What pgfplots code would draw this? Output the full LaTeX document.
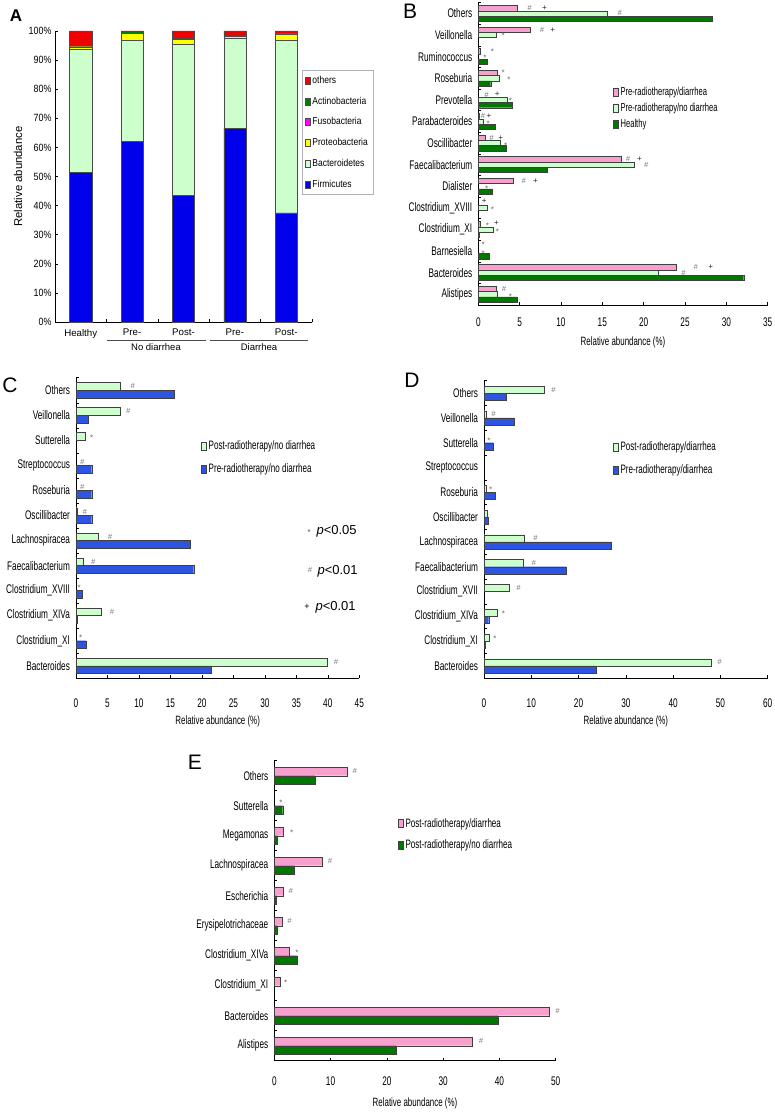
\documentclass[border=0pt]{standalone}
\usepackage{pgfplots}
\pgfplotsset{compat=1.18}
\usepackage{fontspec}
\setmainfont{Liberation Sans}[FakeStretch=0.66]
\newfontfamily\af{Liberation Sans}[FakeStretch=0.85]
\newfontfamily\nf{Liberation Sans}
\definecolor{pinkc}{RGB}{245,160,205}
\definecolor{lgreen}{RGB}{204,255,204}
\definecolor{dgreen}{RGB}{0,120,0}
\definecolor{blueC}{RGB}{45,85,225}
\definecolor{blueA}{RGB}{0,0,235}
\definecolor{redA}{RGB}{240,0,0}
\definecolor{yelA}{RGB}{255,255,0}
\definecolor{magA}{RGB}{255,0,255}
\definecolor{actA}{RGB}{0,128,0}
\newcommand\fs[1]{\fontsize{#1}{#1}\selectfont}
\newcommand\ah[2]{\node[font=\nf\itshape\fs{7.5}, text=black!55, inner sep=0.5pt] at (axis cs:#1,#2) {\#};}
\newcommand\ap[2]{\node[font=\nf\fs{8}, text=black!85, inner sep=0.5pt] at (axis cs:#1,#2) {+};}
\newcommand\as[2]{\node[font=\nf\fs{8}, text=black!60, yshift=-1.2pt, inner sep=0.5pt] at (axis cs:#1,#2) {*};}
\pgfplotsset{
  hb/.style={scale only axis, anchor=south west, xbar, axis lines*=left,
    axis line style={-, black, line width=0.6pt}, tick align=inside, major tick length=3pt,
    tick style={black, line width=0.5pt},
    /pgf/number format/assume math mode=true,
    tick label style={font=\fs{12.5}},
    yticklabel style={xshift=-2.5pt},
    yticklabels={},
    extra y tick style={major tick length=0pt},
    xmin=0, clip=false,
    legend cell align=left,
    legend image code/.code={\draw[##1] (0pt,-4pt) rectangle (5pt,4pt);},
    every axis plot/.append style={draw=black!75, line width=0.4pt},
    xlabel={Relative abundance (\%)},
  },
}
\begin{document}
\begin{tikzpicture}
\useasboundingbox (0pt,0pt) rectangle (775pt,-1113pt);
% ---------------- A
\begin{axis}[
 at={(55pt,-322pt)}, anchor=south west, scale only axis, width=257pt, height=291pt,
 ybar stacked, bar width=0.43,
 xmin=-0.5, xmax=4.5, ymin=0, ymax=100,
 axis lines*=left, axis line style={-, black, line width=0.6pt}, tick align=inside, major tick length=3pt,
 tick style={black, line width=0.5pt},
 xtick={0.5,1.5,2.5,3.5,4.5}, xticklabels={},
 extra x ticks={0,1,2,3,4}, extra x tick labels={Healthy,Pre-,Post-,Pre-,Post-},
 extra x tick style={major tick length=0pt, xticklabel style={font=\nf\fs{9.7}, yshift=-3.5pt}},
 ytick={0,10,...,100}, yticklabel={\pgfmathprintnumber{\tick}\%},
 yticklabel style={font=\af\fs{10.5}},
 /pgf/number format/assume math mode=true,
 ylabel={Relative abundance}, ylabel style={font=\nf\fs{11.3}, at={(axis description cs:-0.144,0.5)}, anchor=center},
 legend style={at={(0.961,0.866)}, anchor=north west, draw=black!30, font=\af\fs{10}, row sep=8pt, inner ysep=4pt},
 legend cell align=left,
 reverse legend,
 legend image code/.code={\draw[#1] (0pt,-3.5pt) rectangle (5pt,3.5pt);},
 every axis plot/.append style={draw=black!70, line width=0.3pt},
 clip=false,
]
\addplot[fill=blueA] coordinates {(0,51.5) (1,62.0) (2,43.6) (3,66.6) (4,37.5)};
\addplot[fill=lgreen] coordinates {(0,42.2) (1,34.9) (2,51.9) (3,30.9) (4,59.4)};
\addplot[fill=yelA] coordinates {(0,0.9) (1,2.4) (2,1.6) (3,0.6) (4,2.1)};
\addplot[fill=magA] coordinates {(0,0) (1,0) (2,0) (3,0) (4,0)};
\addplot[fill=actA] coordinates {(0,0.1) (1,0.5) (2,0.4) (3,0.6) (4,0.3)};
\addplot[fill=redA] coordinates {(0,5.3) (1,0.2) (2,2.5) (3,1.3) (4,0.7)};
\legend{Firmicutes,Bacteroidetes,Proteobacteria,Fusobacteria,Actinobacteria,others}
\end{axis}
\draw[black!70, line width=0.7pt] (107pt,-340pt) -- (206pt,-340pt);
\draw[black!70, line width=0.7pt] (210pt,-340pt) -- (308pt,-340pt);
\node[font=\nf\fs{9.5}] at (156pt,-347.5pt) {No diarrhea};
\node[font=\nf\fs{9.5}] at (259pt,-347.5pt) {Diarrhea};
\node[font=\nf\bfseries\fs{17}] at (16pt,-16pt) {A};
% ---------------- B
\begin{axis}[hb,
 at={(478.3pt,-305pt)}, width=289.4pt, height=302.4pt,
 bar width=0.245, xmax=35, ymin=-0.5, ymax=13.5,
 xtick={0,5,...,35}, xticklabel style={yshift=-9pt},
 ytick={-0.5,0.5,...,13.5},
 extra y ticks={0,1,...,13},
 extra y tick labels={Alistipes,Bacteroides,Barnesiella,Clostridium\_XI,Clostridium\_XVIII,Dialister,Faecalibacterium,Oscillibacter,Parabacteroides,Prevotella,Roseburia,Ruminococcus,Veillonella,Others},
 xlabel style={font=\fs{12}, at={(axis description cs:0.5,0)}, anchor=center, yshift=-37pt},
 legend style={at={(0.455,0.735)}, anchor=north west, draw=none, fill=none, font=\fs{11.5}, row sep=2.5pt},
]
\addplot[fill=pinkc, bar shift=0.245] coordinates {(4.76,13) (6.3,12) (0.2,11) (2.3,10) (0.12,8) (0.85,7) (17.3,6) (4.2,5) (0.25,3) (23.9,1) (2.2,0)};
\addplot[fill=lgreen, bar shift=0] coordinates {(15.6,13) (2.2,12) (2.5,10) (3.5,9) (0.55,8) (2.6,7) (18.8,6) (1.1,4) (1.8,3) (21.7,1) (2.3,0)};
\addplot[fill=dgreen, bar shift=-0.245] coordinates {(28.3,13) (1.1,11) (1.5,10) (4.1,9) (2.0,8) (3.4,7) (8.3,6) (1.7,5) (0.1,3) (1.3,2) (32.1,1) (4.7,0)};
\legend{Pre-radiotherapy/diarrhea,Pre-radiotherapy/no diarrhea,Healthy}
\ah{6.2}{13.245}\ap{8.0}{13.245}\ah{17.1}{13.0}
\ah{7.7}{12.245}\ap{9.0}{12.245}\as{3.0}{12.0}
\as{0.8}{11.0}\as{1.7}{11.3}
\as{3.0}{10.3}\as{3.7}{10.0}
\ah{1.0}{9.245}\ap{2.3}{9.245}\as{3.9}{9.0}
\ah{0.55}{8.245}\ap{1.3}{8.245}\as{1.2}{7.95}
\ah{1.6}{7.245}\ap{2.7}{7.245}\as{3.3}{6.95}
\ah{18.1}{6.245}\ap{19.5}{6.245}\ah{20.3}{6.0}
\ah{5.5}{5.245}\ap{6.9}{5.245}\as{1.0}{4.95}
\ap{0.7}{4.3}\as{1.7}{3.95}
\as{1.1}{3.245}\ap{2.2}{3.3}\as{2.3}{2.95}
\as{0.6}{2.33}\as{0.6}{1.95}
\ah{26.3}{1.245}\ap{28.1}{1.245}\ah{24.8}{1.0}
\ah{3.1}{0.245}\as{3.9}{-0.05}
\end{axis}
\node[font=\nf\fs{21}] at (410pt,-11pt) {B};
% ---------------- C
\begin{axis}[hb,
 at={(76pt,-678.3pt)}, width=283.3pt, height=300.6pt,
 bar width=0.31, xmax=45, ymin=-0.5, ymax=11.5,
 xtick={0,5,...,45}, xticklabel style={yshift=-17pt},
 ytick={-0.5,0.5,...,11.5},
 extra y ticks={0,1,...,11},
 extra y tick labels={Bacteroides,Clostridium\_XI,Clostridium\_XIVa,Clostridium\_XVIII,Faecalibacterium,Lachnospiracea,Oscillibacter,Roseburia,Streptococcus,Sutterella,Veillonella,Others},
 xlabel style={font=\fs{12}, at={(axis description cs:0.5,0)}, anchor=center, yshift=-42.7pt},
 legend style={at={(0.431,0.804)}, anchor=north west, draw=none, fill=none, font=\fs{12.2}, row sep=8.5pt},
]
\addplot[fill=lgreen, bar shift=0.155] coordinates {(7.1,11) (7.1,10) (1.4,9) (0.26,6) (3.5,5) (1.2,4) (4.0,2) (39.9,0)};
\addplot[fill=blueC, bar shift=-0.155] coordinates {(15.6,11) (2.0,10) (2.5,8) (2.5,7) (2.5,6) (18.2,5) (18.7,4) (1.0,3) (0.26,2) (1.6,1) (21.5,0)};
\legend{Post-radiotherapy/no diarrhea,Pre-radiotherapy/no diarrhea}
\ah{9.0}{11.155}\ah{8.3}{10.155}\as{2.5}{9.155}\ah{1.0}{8.155}\ah{1.0}{7.155}\ah{1.4}{6.155}
\ah{5.4}{5.155}\ah{2.75}{4.155}\as{0.5}{3.155}\ah{5.7}{2.155}\as{0.75}{1.155}\ah{41.3}{0.155}
\end{axis}
\node[font=\nf\fs{21}] at (10pt,-385pt) {C};
\node[font=\nf\fs{9}, text=black!60] at (309pt,-532pt) {*};
\node[anchor=west, font=\nf\fs{13}] at (313pt,-531pt) {\textit{p}<0.05};
\node[font=\nf\itshape\fs{7.5}, text=black!55] at (310pt,-570pt) {\#};
\node[anchor=west, font=\nf\fs{13}] at (314pt,-571pt) {\textit{p}<0.01};
\node[font=\nf\fs{9}] at (307pt,-607pt) {+};
\node[anchor=west, font=\nf\fs{13}] at (312pt,-607pt) {\textit{p}<0.01};
% ---------------- D
\begin{axis}[hb,
 at={(484pt,-678.3pt)}, width=283.7pt, height=297.6pt,
 bar width=0.29, xmax=60, ymin=-0.5, ymax=11.5,
 xtick={0,10,...,60}, xticklabel style={yshift=-17pt},
 ytick={-0.5,0.5,...,11.5},
 extra y ticks={0,1,...,11},
 extra y tick labels={Bacteroides,Clostridium\_XI,Clostridium\_XIVa,Clostridium\_XVII,Faecalibacterium,Lachnospiracea,Oscillibacter,Roseburia,Streptococcus,Sutterella,Veillonella,Others},
 xlabel style={font=\fs{12}, at={(axis description cs:0.5,0)}, anchor=center, yshift=-42.7pt},
 legend style={at={(0.444,0.808)}, anchor=north west, draw=none, fill=none, font=\fs{12.2}, row sep=8.7pt},
]
\addplot[fill=lgreen, bar shift=0.145] coordinates {(12.8,11) (0.56,10) (0.5,7) (0.7,6) (8.5,5) (8.3,4) (5.4,3) (2.7,2) (1.06,1) (48.0,0)};
\addplot[fill=blueC, bar shift=-0.145] coordinates {(4.6,11) (6.3,10) (1.9,9) (2.3,7) (0.85,6) (27.0,5) (17.3,4) (1.0,2) (0.35,1) (23.8,0)};
\legend{Post-radiotherapy/diarrhea,Pre-radiotherapy/diarrhea}
\ah{14.7}{11.145}\ah{2.0}{10.145}\as{1.06}{9.145}\as{1.4}{7.145}\ah{10.9}{5.145}\ah{10.5}{4.145}
\ah{7.3}{3.145}\as{4.1}{2.145}\as{2.3}{1.145}\ah{49.8}{0.145}
\end{axis}
\node[font=\nf\fs{21}] at (412pt,-380pt) {D};
% ---------------- E
\begin{axis}[hb,
 at={(274.3pt,-1060.7pt)}, width=281.4pt, height=300pt,
 bar width=0.29, xmax=50, ymin=-0.5, ymax=9.5,
 xtick={0,10,...,50}, xticklabel style={yshift=-13pt},
 ytick={-0.5,0.5,...,9.5},
 extra y ticks={0,1,...,9},
 extra y tick labels={Alistipes,Bacteroides,Clostridium\_XI,Clostridium\_XIVa,Erysipelotrichaceae,Escherichia,Lachnospiracea,Megamonas,Sutterella,Others},
 xlabel style={font=\fs{12}, at={(axis description cs:0.5,0)}, anchor=center, yshift=-42.3pt},
 legend style={at={(0.429,0.822)}, anchor=north west, draw=none, fill=none, font=\fs{12.2}, row sep=7pt},
]
\addplot[fill=pinkc, bar shift=0.145] coordinates {(13.0,9) (1.66,7) (8.5,6) (1.66,5) (1.4,4) (2.7,3) (1.0,2) (48.8,1) (35.25,0)};
\addplot[fill=dgreen, bar shift=-0.145] coordinates {(7.2,9) (1.5,8) (0.6,7) (3.6,6) (0.4,5) (0.6,4) (4.1,3) (39.75,1) (21.7,0)};
\legend{Post-radiotherapy/diarrhea,Post-radiotherapy/no diarrhea}
\ah{14.3}{9.145}\as{1.2}{8.145}\as{3.1}{7.145}\ah{9.9}{6.145}\ah{2.9}{5.145}\ah{2.7}{4.145}
\as{4.0}{3.145}\as{2.0}{2.145}\ah{50.3}{1.145}\ah{36.7}{0.145}
\end{axis}
\node[font=\nf\fs{21}] at (195pt,-762pt) {E};
\end{tikzpicture}
\end{document}
